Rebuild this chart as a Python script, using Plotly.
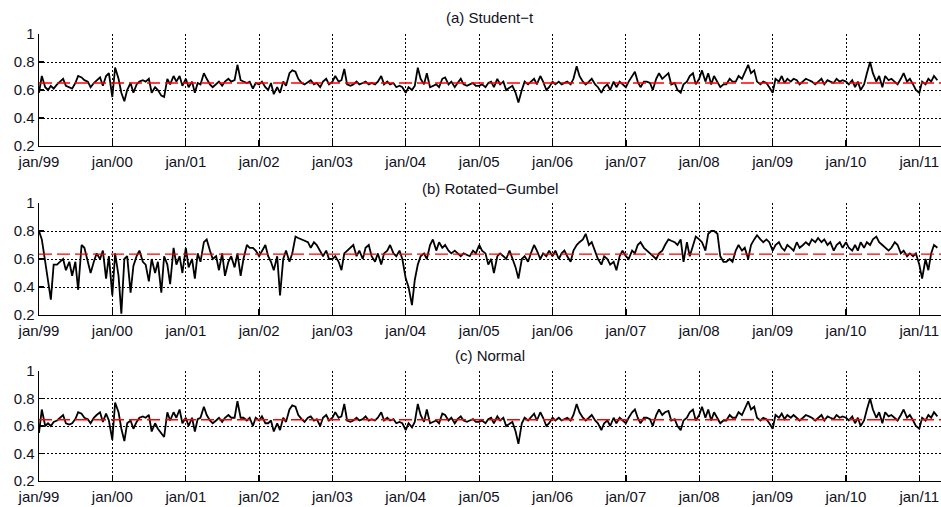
import pandas as pd
import plotly.graph_objects as go

# ---------------- data (semi-monthly readings of the weekly series) ----------------
student_t = (
    [0.58, 0.70, 0.62, 0.60, 0.63, 0.61, 0.64, 0.66, 0.68, 0.63, 0.62, 0.61, 0.65, 0.70, 0.69, 0.67, 0.66, 0.62, 0.65, 0.67, 0.69, 0.63, 0.70, 0.72]
    + [0.55, 0.76, 0.68, 0.58, 0.52, 0.60, 0.65, 0.58, 0.64, 0.66, 0.67, 0.66, 0.68, 0.58, 0.62, 0.60, 0.56, 0.55, 0.68, 0.64, 0.70, 0.66, 0.70, 0.63]
    + [0.68, 0.62, 0.66, 0.58, 0.65, 0.64, 0.72, 0.68, 0.64, 0.62, 0.64, 0.66, 0.63, 0.66, 0.68, 0.66, 0.67, 0.78, 0.67, 0.66, 0.65, 0.66, 0.61, 0.65]
    + [0.64, 0.66, 0.62, 0.60, 0.65, 0.57, 0.62, 0.58, 0.66, 0.63, 0.72, 0.74, 0.73, 0.68, 0.65, 0.64, 0.66, 0.67, 0.64, 0.65, 0.62, 0.66, 0.68, 0.64]
    + [0.66, 0.70, 0.66, 0.67, 0.75, 0.64, 0.63, 0.64, 0.66, 0.64, 0.65, 0.66, 0.64, 0.65, 0.64, 0.66, 0.70, 0.64, 0.66, 0.64, 0.65, 0.62, 0.63, 0.62]
    + [0.58, 0.62, 0.60, 0.63, 0.76, 0.68, 0.64, 0.72, 0.62, 0.63, 0.64, 0.62, 0.68, 0.69, 0.64, 0.66, 0.62, 0.65, 0.68, 0.64, 0.63, 0.64, 0.65, 0.63]
    + [0.63, 0.64, 0.62, 0.65, 0.66, 0.62, 0.68, 0.64, 0.66, 0.60, 0.62, 0.63, 0.58, 0.51, 0.60, 0.66, 0.64, 0.66, 0.68, 0.64, 0.70, 0.66, 0.60, 0.62]
    + [0.66, 0.64, 0.66, 0.64, 0.65, 0.66, 0.64, 0.68, 0.77, 0.70, 0.66, 0.64, 0.66, 0.68, 0.64, 0.62, 0.58, 0.62, 0.64, 0.60, 0.66, 0.62, 0.66, 0.64]
    + [0.62, 0.66, 0.70, 0.73, 0.66, 0.62, 0.66, 0.66, 0.65, 0.60, 0.68, 0.72, 0.68, 0.70, 0.72, 0.64, 0.65, 0.60, 0.58, 0.64, 0.66, 0.70, 0.72, 0.64]
    + [0.68, 0.74, 0.66, 0.72, 0.64, 0.70, 0.66, 0.62, 0.64, 0.64, 0.68, 0.66, 0.66, 0.70, 0.68, 0.72, 0.78, 0.72, 0.74, 0.66, 0.64, 0.66, 0.65, 0.62]
    + [0.58, 0.68, 0.66, 0.70, 0.65, 0.68, 0.66, 0.68, 0.67, 0.64, 0.66, 0.68, 0.67, 0.66, 0.64, 0.66, 0.68, 0.64, 0.67, 0.66, 0.65, 0.68, 0.66, 0.67]
    + [0.66, 0.64, 0.67, 0.62, 0.66, 0.60, 0.64, 0.72, 0.80, 0.72, 0.66, 0.70, 0.62, 0.70, 0.67, 0.68, 0.66, 0.64, 0.68, 0.72, 0.66, 0.68, 0.64, 0.60]
    + [0.58, 0.66, 0.64, 0.68, 0.66, 0.70, 0.67]
)

rotated_gumbel = (
    [0.80, 0.74, 0.58, 0.44, 0.31, 0.56, 0.56, 0.58, 0.60, 0.52, 0.58, 0.48, 0.58, 0.38, 0.70, 0.68, 0.58, 0.50, 0.58, 0.64, 0.60, 0.66, 0.46, 0.62]
    + [0.34, 0.64, 0.48, 0.21, 0.60, 0.62, 0.36, 0.55, 0.62, 0.66, 0.58, 0.56, 0.44, 0.60, 0.50, 0.58, 0.36, 0.62, 0.56, 0.42, 0.68, 0.56, 0.62, 0.50]
    + [0.68, 0.54, 0.60, 0.46, 0.64, 0.58, 0.72, 0.74, 0.66, 0.60, 0.62, 0.52, 0.64, 0.48, 0.58, 0.62, 0.54, 0.64, 0.48, 0.60, 0.70, 0.68, 0.68, 0.66]
    + [0.62, 0.66, 0.70, 0.62, 0.58, 0.52, 0.62, 0.34, 0.60, 0.66, 0.58, 0.64, 0.76, 0.75, 0.74, 0.73, 0.72, 0.68, 0.72, 0.70, 0.66, 0.62, 0.66, 0.60]
    + [0.60, 0.62, 0.58, 0.52, 0.64, 0.66, 0.68, 0.70, 0.62, 0.66, 0.60, 0.68, 0.70, 0.62, 0.58, 0.64, 0.56, 0.64, 0.66, 0.70, 0.64, 0.62, 0.66, 0.60]
    + [0.46, 0.40, 0.27, 0.45, 0.56, 0.62, 0.64, 0.60, 0.70, 0.74, 0.66, 0.72, 0.68, 0.70, 0.66, 0.64, 0.66, 0.64, 0.62, 0.64, 0.63, 0.62, 0.66, 0.64]
    + [0.70, 0.66, 0.64, 0.56, 0.60, 0.50, 0.62, 0.64, 0.62, 0.60, 0.66, 0.60, 0.54, 0.46, 0.60, 0.62, 0.58, 0.64, 0.70, 0.66, 0.60, 0.64, 0.62, 0.66]
    + [0.62, 0.66, 0.60, 0.64, 0.66, 0.62, 0.58, 0.66, 0.70, 0.72, 0.74, 0.78, 0.70, 0.72, 0.66, 0.60, 0.56, 0.62, 0.60, 0.56, 0.58, 0.52, 0.62, 0.66]
    + [0.62, 0.60, 0.66, 0.64, 0.70, 0.72, 0.68, 0.66, 0.64, 0.62, 0.60, 0.64, 0.66, 0.70, 0.74, 0.73, 0.72, 0.70, 0.74, 0.58, 0.72, 0.62, 0.70, 0.76]
    + [0.74, 0.72, 0.66, 0.78, 0.80, 0.80, 0.78, 0.62, 0.58, 0.58, 0.60, 0.58, 0.66, 0.70, 0.66, 0.68, 0.60, 0.70, 0.74, 0.77, 0.74, 0.72, 0.74, 0.72]
    + [0.66, 0.70, 0.72, 0.68, 0.66, 0.70, 0.68, 0.66, 0.72, 0.68, 0.70, 0.72, 0.70, 0.74, 0.72, 0.75, 0.72, 0.74, 0.70, 0.72, 0.66, 0.70, 0.72, 0.68]
    + [0.72, 0.68, 0.66, 0.70, 0.66, 0.72, 0.68, 0.72, 0.70, 0.74, 0.76, 0.72, 0.70, 0.68, 0.66, 0.68, 0.72, 0.70, 0.64, 0.66, 0.62, 0.64, 0.62, 0.64]
    + [0.56, 0.46, 0.60, 0.52, 0.64, 0.70, 0.68]
)

normal = (
    [0.55, 0.72, 0.60, 0.62, 0.60, 0.63, 0.64, 0.66, 0.68, 0.62, 0.61, 0.62, 0.65, 0.70, 0.69, 0.66, 0.65, 0.62, 0.66, 0.68, 0.70, 0.63, 0.69, 0.64]
    + [0.50, 0.77, 0.70, 0.58, 0.49, 0.62, 0.64, 0.58, 0.63, 0.66, 0.67, 0.66, 0.68, 0.56, 0.62, 0.58, 0.55, 0.52, 0.70, 0.64, 0.70, 0.66, 0.72, 0.62]
    + [0.66, 0.60, 0.66, 0.56, 0.65, 0.66, 0.74, 0.68, 0.64, 0.62, 0.64, 0.66, 0.63, 0.66, 0.68, 0.66, 0.66, 0.78, 0.66, 0.66, 0.64, 0.66, 0.60, 0.66]
    + [0.64, 0.67, 0.62, 0.62, 0.64, 0.56, 0.62, 0.57, 0.66, 0.63, 0.72, 0.75, 0.74, 0.68, 0.65, 0.63, 0.66, 0.67, 0.64, 0.65, 0.60, 0.66, 0.68, 0.64]
    + [0.66, 0.70, 0.66, 0.67, 0.76, 0.64, 0.63, 0.64, 0.66, 0.64, 0.65, 0.67, 0.64, 0.65, 0.64, 0.66, 0.70, 0.64, 0.66, 0.64, 0.65, 0.62, 0.63, 0.62]
    + [0.57, 0.62, 0.59, 0.63, 0.76, 0.68, 0.63, 0.72, 0.62, 0.63, 0.64, 0.62, 0.69, 0.68, 0.64, 0.66, 0.62, 0.65, 0.67, 0.64, 0.63, 0.64, 0.65, 0.63]
    + [0.63, 0.64, 0.62, 0.65, 0.66, 0.62, 0.67, 0.64, 0.66, 0.60, 0.62, 0.63, 0.56, 0.47, 0.62, 0.66, 0.64, 0.66, 0.69, 0.64, 0.70, 0.66, 0.60, 0.62]
    + [0.66, 0.64, 0.66, 0.64, 0.65, 0.66, 0.64, 0.68, 0.76, 0.70, 0.66, 0.64, 0.66, 0.68, 0.64, 0.62, 0.57, 0.62, 0.64, 0.60, 0.66, 0.62, 0.66, 0.64]
    + [0.62, 0.66, 0.70, 0.72, 0.66, 0.62, 0.66, 0.66, 0.65, 0.60, 0.68, 0.72, 0.68, 0.70, 0.71, 0.64, 0.65, 0.60, 0.57, 0.64, 0.66, 0.70, 0.72, 0.64]
    + [0.68, 0.74, 0.66, 0.72, 0.64, 0.70, 0.66, 0.62, 0.64, 0.64, 0.68, 0.66, 0.66, 0.70, 0.68, 0.72, 0.78, 0.72, 0.74, 0.66, 0.64, 0.66, 0.65, 0.62]
    + [0.58, 0.68, 0.66, 0.69, 0.65, 0.68, 0.66, 0.68, 0.66, 0.64, 0.66, 0.68, 0.67, 0.66, 0.64, 0.66, 0.68, 0.64, 0.67, 0.66, 0.65, 0.68, 0.66, 0.67]
    + [0.66, 0.64, 0.67, 0.62, 0.66, 0.60, 0.64, 0.72, 0.80, 0.72, 0.66, 0.70, 0.62, 0.70, 0.67, 0.68, 0.66, 0.64, 0.68, 0.72, 0.66, 0.68, 0.64, 0.60]
    + [0.58, 0.66, 0.64, 0.68, 0.66, 0.70, 0.67]
)

mean_levels = [0.650, 0.635, 0.645]
panel_titles = ["(a) Student\u2212t", "(b) Rotated\u2212Gumbel", "(c) Normal"]
series_list = [student_t, rotated_gumbel, normal]

x_tick_dates = [f"{y}-01-01" for y in range(1999, 2012)]
x_tick_labels = ["jan/99", "jan/00", "jan/01", "jan/02", "jan/03", "jan/04", "jan/05",
                 "jan/06", "jan/07", "jan/08", "jan/09", "jan/10", "jan/11"]
y_tick_vals = [0.2, 0.4, 0.6, 0.8, 1.0]
y_tick_labels = ["0.2", "0.4", "0.6", "0.8", "1"]

# ---------------- figure ----------------
W, H = 941, 507
x_range = ["1999-01-01", "2011-04-19"]
# plot areas in pixels (top = y 1, bottom = y 0.2)
panel_px = [(34, 146), (203, 315), (371, 481)]
title_px = [18, 188, 355]
L = 39

fig = go.Figure()
font_family = "Liberation Sans, Arial, Helvetica, sans-serif"
grid_dash = "1.5px,2.5px"

for i, (vals, lvl) in enumerate(zip(series_list, mean_levels)):
    dates = pd.date_range("1999-01-01", periods=len(vals), freq="SMS")
    xa = "x" if i == 0 else f"x{i+1}"
    ya = "y" if i == 0 else f"y{i+1}"
    fig.add_trace(go.Scatter(x=dates, y=vals, mode="lines",
                             line=dict(color="black", width=1.8),
                             xaxis=xa, yaxis=ya, showlegend=False, hoverinfo="skip"))
    fig.add_trace(go.Scatter(x=[x_range[0], x_range[1]], y=[lvl, lvl], mode="lines",
                             line=dict(color="#ff0000", width=1.4, dash="13px,5px"),
                             xaxis=xa, yaxis=ya, showlegend=False, hoverinfo="skip"))

layout = dict(
    width=W, height=H,
    margin=dict(l=L, r=0, t=0, b=0, pad=0, autoexpand=False),
    paper_bgcolor="white", plot_bgcolor="white",
    font=dict(family=font_family, size=15, color="#111122"),
)

for i in range(3):
    top, bot = panel_px[i]
    dom = [1 - bot / H, 1 - top / H]
    sfx = "" if i == 0 else str(i + 1)
    layout["xaxis" + sfx] = dict(
        domain=[0, 1], range=x_range, anchor="y" + sfx, automargin=False,
        tickmode="array", tickvals=x_tick_dates, ticktext=x_tick_labels,
        ticks="inside", ticklen=6, tickcolor="black", tickwidth=1.3,
        showline=True, linecolor="black", linewidth=1.3, mirror=False,
        showgrid=True, gridcolor="black", gridwidth=1, griddash=grid_dash,
        zeroline=False, tickfont=dict(size=15), ticklabelstandoff=2,
    )
    layout["yaxis" + sfx] = dict(
        domain=dom, range=[0.2, 1.0], anchor="x" + sfx, automargin=False,
        tickmode="array", tickvals=y_tick_vals, ticktext=y_tick_labels,
        ticks="inside", ticklen=5, tickcolor="black", tickwidth=1.3,
        showline=True, linecolor="black", linewidth=1.3, mirror=False,
        showgrid=True, gridcolor="black", gridwidth=1, griddash=grid_dash,
        zeroline=False, tickfont=dict(size=15),
    )

annotations = []
for i, t in enumerate(panel_titles):
    annotations.append(dict(text=t, x=((L + W) / 2 - L) / (W - L), xref="paper", xanchor="center",
                            y=1 - title_px[i] / H, yref="paper", yanchor="middle",
                            showarrow=False, font=dict(size=15, color="#111122")))
layout["annotations"] = annotations

fig.update_layout(**layout)

fig.write_html("out.html", config={"displayModeBar": False, "staticPlot": True},
               post_script="document.body.style.margin='0';document.body.style.overflow='hidden';")
